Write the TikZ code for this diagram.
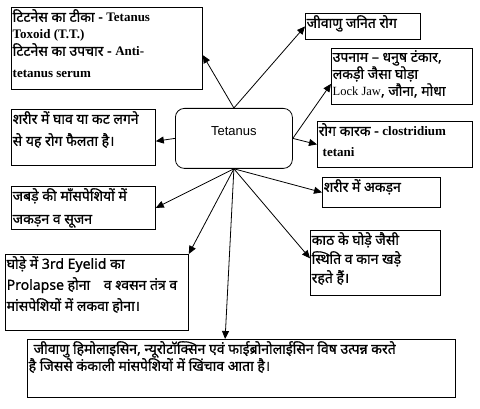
\documentclass[tikz,border=0pt]{standalone}
\usepackage{fontspec}
\usepackage{tikz}
\usetikzlibrary{arrows.meta}
\newfontfamily\devfont[Script=Devanagari, Scale=1.08, FakeBold=0.8]{Noto Sans}
\newfontfamily\romfont{Liberation Serif}
\newfontfamily\headfont{Liberation Sans}
\newcommand{\rom}[1]{{\romfont\bfseries #1}} % latin words inside hindi text
\tikzset{
	box/.style={draw, thick, anchor=north west, inner sep=0pt},
	boxtext/.style={anchor=north west, align=left, inner xsep=1.5pt, inner ysep=2pt},
	conn/.style={thick, -{Triangle[length=8pt,width=7pt]}}
}
\newcommand{\infobox}[7][17] % [line skip]{name}{x}{y}{width}{height}{text}
{
	\node [box, minimum width=#5pt, minimum height=#6pt] (#2) at (#3,#4) {};
	\node [boxtext, font=\devfont\fontsize{13}{#1}\selectfont] (#2t) at (#2.north west) {#7};
}
\begin{document}
\begin{tikzpicture}[x=1pt, y=-1pt]
		
		\useasboundingbox (0,0) rectangle (480,409);
		
		\node [draw, thick, rounded corners=9pt, anchor=north west, minimum width=117pt, minimum height=60pt, text depth=15pt, font=\headfont\fontsize{13}{15}\selectfont] (tet) at (175,108) {Tetanus};
		
		\infobox{vaccine}{11}{7}{191}{82}{टिटनेस का टीका - \rom{Tetanus}\\\rom{Toxoid (T.T.)}\\टिटनेस का उपचार - \rom{Anti-}\\[5pt]\rom{tetanus serum}}
		\infobox{bacteria}{305}{13}{115}{26}{जीवाणु जनित रोग}
		\infobox{names}{331}{48}{141}{56}{उपनाम – धनुष टंकार,\\लकड़ी जैसा घोड़ा\\{\romfont\fontsize{12.5}{17}\selectfont Lock Jaw}, जौना, मोधा}
		\infobox[21]{cause}{317}{121}{155}{46}{रोग कारक - \rom{clostridium}\\\hspace{4pt}\rom{tetani}}
		\infobox{stiff}{322}{177}{118}{30}{शरीर में अकड़न}
		\infobox[19]{posture}{310}{230}{130}{65}{काठ के घोड़े जैसी\\स्थिति व कान खड़े\\रहते हैं।}
		\infobox[22]{wound}{11}{109}{144}{56}{शरीर में घाव या कट लगने\\से यह रोग फैलता है।}
		\infobox[23]{jaw}{11}{186}{144}{43}{जबड़े की माँसपेशियों में\\जकड़न व सूजन}
		\infobox[21]{eyelid}{5}{254}{183}{76}{घोड़े में 3rd Eyelid का\\Prolapse होना\hspace{10pt} व श्वसन तंत्र व\\मांसपेशियों में लकवा होना।}
		\infobox{toxin}{27}{339}{428}{58}{\hspace{5pt}जीवाणु हिमोलाइसिन, न्यूरोटॉक्सिन एवं फाईब्रोनोलाईसिन विष उत्पन्न करते\\है जिससे कंकाली मांसपेशियों में खिंचाव आता है।}
		
		% arrows out of the centre box
		\draw [conn] (tet.north) -- (vaccine.-4);
		\draw [conn] (tet.north) -- (bacteria.west);
		\draw [conn] (tet.east) -- (names.186);
		\draw [conn] (tet.east) -- (cause.west);
		\draw [conn] (tet.west) -- (wound.-3);
		\draw [conn] (tet.south) -- (stiff.west);
		\draw [conn] (tet.south) -- (posture.176);
		\draw [conn] (tet.south) -- (jaw.east);
		\draw [conn] (tet.south) -- (eyelid.north east);
		\draw [conn] (tet.south) -- (toxin.119);
		
\end{tikzpicture}
\end{document}
